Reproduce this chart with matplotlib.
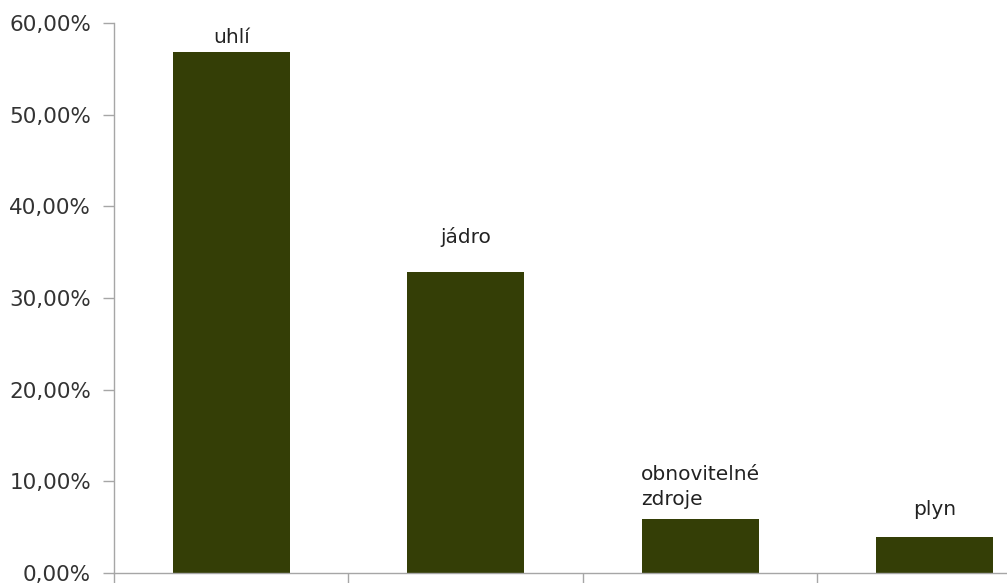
import matplotlib
matplotlib.use("Agg")
import matplotlib.pyplot as plt
from matplotlib.ticker import FuncFormatter, FixedLocator

# ----- data ----- #
categories = ["uhlí", "jádro", "obnovitelné\nzdroje", "plyn"]
shares = [56.8, 32.8, 5.9, 3.9]          # percent
yticks = [0, 10, 20, 30, 40, 50, 60]

# label offsets above bar top, in points (style only)
label_gap = [6.5, 21, 10, 16]

bar_color = "#343e06"
axis_color = "#a6a6a6"
text_color = "#333333"

fig = plt.figure(figsize=(10.07, 5.83), dpi=100)
ax = fig.add_axes([0.1132, 10 / 583, 1 - 0.1132, 1 - 10 / 583 - 23 / 583])

x = list(range(len(categories)))
bars = ax.bar(x, shares, width=0.5, color=bar_color, zorder=2)

for xi, val, name, gap in zip(x, shares, categories, label_gap):
    ax.annotate(name, (xi, val), xytext=(0, gap), textcoords="offset points",
                ha="center", va="baseline", multialignment="left",
                fontsize=14.5, color="#222222", linespacing=1.4)

ax.set_ylim(0, 60)
ax.set_xlim(-0.5, (1007 - 114) / 234.5 - 0.5)
ax.yaxis.set_major_locator(FixedLocator(yticks))
ax.yaxis.set_major_formatter(FuncFormatter(lambda v, p: f"{v:.2f}".replace(".", ",") + "%"))
ax.xaxis.set_major_locator(FixedLocator([i - 0.5 for i in range(len(categories) + 1)]))
ax.set_xticklabels([])

for side in ["top", "right"]:
    ax.spines[side].set_visible(False)
for side in ["left", "bottom"]:
    ax.spines[side].set_color(axis_color)
    ax.spines[side].set_linewidth(1.0)

ax.tick_params(axis="y", length=8, width=1, color=axis_color, labelsize=15.5,
               labelcolor=text_color, pad=8.5)
ax.tick_params(axis="x", length=12, width=1, color=axis_color)

fig.savefig("out.png", dpi=100)
